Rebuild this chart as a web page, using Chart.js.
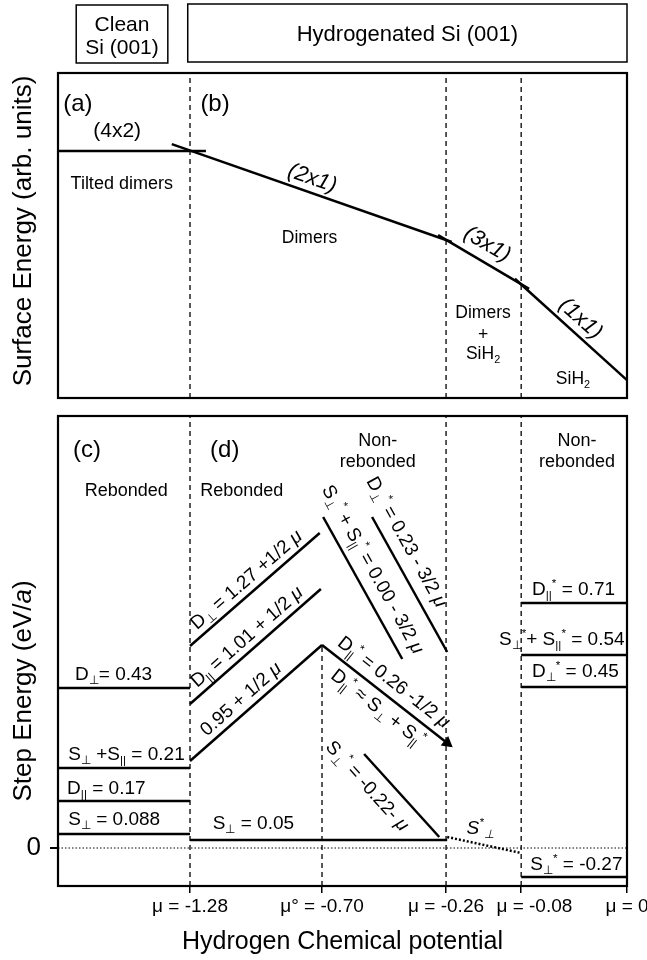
<!DOCTYPE html>
<html>
<head>
<meta charset="utf-8">
<script src="https://cdn.jsdelivr.net/npm/chart.js@4.4.0/dist/chart.umd.min.js"></script>
<style>
body { margin: 0; background: #fff; }
#wrap { position: relative; width: 647px; height: 960px; }
canvas { position: absolute; left: 0; }
#top { top: 0; }
#bot { top: 400px; }
</style>
</head>
<body>
<div id="wrap">
<canvas id="top" width="647" height="400"></canvas>
<canvas id="bot" width="647" height="560"></canvas>
</div>
<script>
var FONT = '"Liberation Sans", Arial, Helvetica, sans-serif';
Chart.defaults.font.family = FONT;
Chart.defaults.color = '#000';

// phase boundaries: schematic position along the mu axis (0 = left frame, 100 = mu = 0)
var muPos = [23.2, 46.4, 68.2, 81.4, 100];
var muTicks = ['μ = -1.28', 'μ° = -0.70', 'μ = -0.26', '     μ = -0.08', 'μ = 0'];

// (a)/(b) surface energy, arb. units
var tiltX = [0, 26.0], tiltY = [76.0, 76.0];
var dim2x1X = [20.0, 69.2], dim2x1Y = [78.1, 48.0];
var dim3x1X = [66.8, 82.8], dim3x1Y = [50.1, 33.6];
var sih1x1X = [80.3, 100], sih1x1Y = [36.7, 5.5];

// (c) clean Si step levels (schematic height): D_perp, S_perp+S_par, D_par, S_perp
var cleanX = [0, 23.2];
var cleanLevels = [160, 80, 47, 14];

// (d) hydrogenated steps
var sPerpX = [23.2, 68.4], sPerpY = [8, 8];
var dPerpX = [23.2, 46.0], dPerpY = [202, 315];
var dParX = [23.2, 46.2], dParY = [144, 259];
var sumX = [23.2, 46.4], sumY = [87, 203];
var dParStarX = [46.4, 68.4], dParStarY = [203, 105];
var sSumStarX = [46.6, 60.5], sSumStarY = [331, 189];
var dPerpStarX = [55.2, 68.4], dPerpStarY = [331, 196];
var sPerpStarX = [53.8, 67.0], sPerpStarY = [94, 11];
var sPerpDotX = [68.4, 81.4], sPerpDotY = [11, -5];

// mu > -0.08, non-rebonded: D_par*, S_perp*+S_par*, D_perp*, S_perp*
var hiX = [81.4, 100];
var hiLevels = [245, 193, 161, -29];

function seg(xs, ys, extra) {
  return Object.assign({
    data: xs.map(function (v, i) { return { x: v, y: ys[i] }; }),
    borderColor: '#000', borderWidth: 2.5, pointRadius: 0, fill: false, tension: 0
  }, extra || {});
}
function dash(xs, ys) {
  return seg(xs, ys, { borderDash: [5, 4], borderWidth: 1.3 });
}

// tiny rich text: _{sub} ^{sup} %{italic}, mu always italic
function parseRich(s) {
  var out = [], buf = '', i = 0;
  function flush() { if (buf) { out.push({ s: buf, k: 'n' }); buf = ''; } }
  while (i < s.length) {
    var c = s[i];
    if ((c === '_' || c === '^' || c === '%') && s[i + 1] === '{') {
      flush();
      var j = s.indexOf('}', i);
      out.push({ s: s.slice(i + 2, j), k: c === '_' ? 'sub' : c === '^' ? 'sup' : 'it' });
      i = j + 1;
    } else if (c === 'μ') {
      flush(); out.push({ s: 'μ', k: 'it' }); i++;
    } else { buf += c; i++; }
  }
  flush();
  return out;
}
function drawRich(ctx, s, x, y, size, opt) {
  opt = opt || {};
  var segs = parseRich(s), w = 0;
  segs.forEach(function (g) {
    g.fs = (g.k === 'sub' || g.k === 'sup') ? size * 0.62 : size;
    g.font = ((opt.italic || g.k === 'it') ? 'italic ' : '') + g.fs + 'px ' + FONT;
    ctx.font = g.font;
    g.w = ctx.measureText(g.s).width;
    w += g.w;
  });
  ctx.save();
  ctx.translate(x, y);
  ctx.rotate(opt.rot || 0);
  ctx.textBaseline = 'alphabetic';
  ctx.textAlign = 'left';
  var cx = opt.align === 'left' ? 0 : -w / 2;
  var base = size * 0.36;
  segs.forEach(function (g) {
    ctx.font = g.font;
    var dy = g.k === 'sub' ? size * 0.22 : g.k === 'sup' ? -size * 0.42 : 0;
    ctx.fillText(g.s, cx, base + dy);
    cx += g.w;
  });
  ctx.restore();
}

function notesPlugin(notes, extra) {
  return {
    id: 'notes',
    afterDraw: function (chart) {
      var ctx = chart.ctx, a = chart.chartArea, sx = chart.scales.x, sy = chart.scales.y;
      ctx.save();
      ctx.strokeStyle = '#000';
      ctx.lineWidth = 2.2;
      ctx.strokeRect(a.left, a.top, a.right - a.left, a.bottom - a.top);
      ctx.fillStyle = '#000';
      notes.forEach(function (n) {
        var px, py, rot = 0;
        if (n.along) {
          var x1 = sx.getPixelForValue(n.along[0][0]), x2 = sx.getPixelForValue(n.along[0][1]);
          var y1 = sy.getPixelForValue(n.along[1][0]), y2 = sy.getPixelForValue(n.along[1][1]);
          rot = Math.atan2(y2 - y1, x2 - x1);
          px = x1 + n.f * (x2 - x1) + n.off * Math.sin(rot);
          py = y1 + n.f * (y2 - y1) - n.off * Math.cos(rot);
        } else {
          px = sx.getPixelForValue(n.x);
          py = sy.getPixelForValue(n.y);
        }
        drawRich(ctx, n.s, px, py, n.size || 19, { rot: rot, align: n.align, italic: n.italic });
      });
      if (extra) extra(ctx, sx, sy);
      ctx.restore();
    }
  };
}

var topNotes = [
  { s: '(a)', x: 3.5, y: 91.1, size: 24 },
  { s: '(b)', x: 27.6, y: 91.1, size: 24 },
  { s: '(4x2)', x: 10.4, y: 82.5, size: 21 },
  { s: 'Tilted dimers', x: 11.2, y: 66.2, size: 18 },
  { s: 'Dimers', x: 44.2, y: 49.5, size: 17.5 },
  { s: 'Dimers', x: 74.7, y: 26.5, size: 17.5 },
  { s: '+', x: 74.7, y: 19.7, size: 17.5 },
  { s: 'SiH_{2}', x: 74.7, y: 13.8, size: 17.5 },
  { s: 'SiH_{2}', x: 90.5, y: 6.2, size: 17.5 },
  { s: '(2x1)', along: [dim2x1X, dim2x1Y], f: 0.485, off: 15.7, size: 22, italic: true },
  { s: '(3x1)', along: [dim3x1X, dim3x1Y], f: 0.445, off: 18.7, size: 22, italic: true },
  { s: '(1x1)', along: [sih1x1X, sih1x1Y], f: 0.5, off: 16, size: 22, italic: true }
];

var botNotes = [
  { s: '(c)', x: 5.1, y: 400, size: 24 },
  { s: '(d)', x: 29.3, y: 400, size: 24 },
  { s: 'Rebonded', x: 12.0, y: 358, size: 18 },
  { s: 'Rebonded', x: 32.3, y: 358, size: 18 },
  { s: 'Non-', x: 56.2, y: 408, size: 18 },
  { s: 'rebonded', x: 56.2, y: 387, size: 18 },
  { s: 'Non-', x: 91.2, y: 408, size: 18 },
  { s: 'rebonded', x: 91.2, y: 387, size: 18 },
  { s: 'D_{⊥}= 0.43', x: 3.0, y: 175, size: 19, align: 'left' },
  { s: 'S_{⊥} +S_{||} = 0.21', x: 1.8, y: 95, size: 19, align: 'left' },
  { s: 'D_{||} = 0.17', x: 1.6, y: 61, size: 19, align: 'left' },
  { s: 'S_{⊥} = 0.088', x: 1.8, y: 30, size: 19, align: 'left' },
  { s: 'S_{⊥} = 0.05', x: 27.2, y: 26, size: 19, align: 'left' },
  { s: 'D_{||}^{*} = 0.71', x: 83.3, y: 260, size: 19, align: 'left' },
  { s: 'S_{⊥}^{*}+ S_{||}^{*} = 0.54', x: 77.5, y: 210, size: 19, align: 'left' },
  { s: 'D_{⊥}^{*} = 0.45', x: 83.3, y: 178, size: 19, align: 'left' },
  { s: 'S_{⊥}^{*} = -0.27', x: 83.0, y: -15, size: 19, align: 'left' },
  { s: 'S^{*}_{⊥}', x: 74.2, y: 21, size: 19, italic: true },
  { s: 'D_{⊥} = 1.27 +1/2 μ', along: [dPerpX, dPerpY], f: 0.5, off: 14 },
  { s: 'D_{||} = 1.01 + 1/2 μ', along: [dParX, dParY], f: 0.5, off: 14 },
  { s: '0.95 + 1/2 μ', along: [sumX, sumY], f: 0.45, off: 14 },
  { s: 'D_{||}^{*} = 0.26 -1/2 μ', along: [dParStarX, dParStarY], f: 0.5, off: 16 },
  { s: 'D_{||}^{*} ≈ S_{⊥} + S_{||}^{*}', along: [dParStarX, dParStarY], f: 0.52, off: -14 },
  { s: 'S_{⊥}^{*} + S_{||}^{*} = 0.00 - 3/2 μ', along: [sSumStarX, sSumStarY], f: 0.43, off: 19 },
  { s: 'D_{⊥}^{*} = 0.23 - 3/2 μ', along: [dPerpStarX, dPerpStarY], f: 0.25, off: 19 },
  { s: 'S_{⊥}^{*} = -0.22- μ', along: [sPerpStarX, sPerpStarY], f: 0.23, off: -18 }
];

function topExtras(ctx, sx) {
  ctx.lineWidth = 1.5;
  var l1 = sx.getPixelForValue(3.2), r1 = sx.getPixelForValue(19.3);
  var l2 = sx.getPixelForValue(22.8), r2 = sx.getPixelForValue(100);
  ctx.strokeRect(l1, 5, r1 - l1, 58);
  ctx.strokeRect(l2, 4, r2 - l2, 58);
  drawRich(ctx, 'Clean', (l1 + r1) / 2, 23, 21);
  drawRich(ctx, 'Si (001)', (l1 + r1) / 2, 46, 21);
  drawRich(ctx, 'Hydrogenated Si (001)', (l2 + r2) / 2, 33, 22);
  drawRich(ctx, 'Surface Energy (arb. units)', 22, 231, 26, { rot: -Math.PI / 2 });
}
function botExtras(ctx) {
  drawRich(ctx, 'Step Energy (eV/%{a})', 22, 291, 26, { rot: -Math.PI / 2 });
}

new Chart(document.getElementById('top'), {
  type: 'line',
  data: {
    datasets: [
      seg(tiltX, tiltY), seg(dim2x1X, dim2x1Y), seg(dim3x1X, dim3x1Y), seg(sih1x1X, sih1x1Y)
    ].concat([muPos[0], muPos[2], muPos[3]].map(function (p) { return dash([p, p], [0, 100]); }))
  },
  options: {
    responsive: false, animation: false, events: [],
    layout: { padding: { left: 58, right: 20, top: 73, bottom: 2 } },
    plugins: { legend: { display: false }, tooltip: { enabled: false } },
    scales: {
      x: { type: 'linear', min: 0, max: 100, display: false },
      y: { type: 'linear', min: 0, max: 100, display: false }
    }
  },
  plugins: [notesPlugin(topNotes, topExtras)]
});

var botSets = cleanLevels.map(function (v) { return seg(cleanX, [v, v]); })
  .concat(hiLevels.map(function (v) { return seg(hiX, [v, v]); }))
  .concat([
    seg(sPerpX, sPerpY), seg(dPerpX, dPerpY), seg(dParX, dParY), seg(sumX, sumY),
    seg(dParStarX, dParStarY, {
      pointRadius: [0, 4.5], pointStyle: 'triangle', pointRotation: 128,
      pointBackgroundColor: '#000', pointBorderColor: '#000'
    }),
    seg(sSumStarX, sSumStarY), seg(dPerpStarX, dPerpStarY), seg(sPerpStarX, sPerpStarY),
    seg(sPerpDotX, sPerpDotY, { borderDash: [2, 2], borderWidth: 2.5 }),
    seg([0, 100], [0, 0], { borderDash: [1.5, 2], borderWidth: 1 }),
    dash([muPos[0], muPos[0]], [-38, 432]),
    dash([muPos[1], muPos[1]], [-38, sumY[1]]),
    dash([muPos[2], muPos[2]], [-38, 432]),
    dash([muPos[3], muPos[3]], [-38, 432])
  ]);

new Chart(document.getElementById('bot'), {
  type: 'line',
  data: { datasets: botSets },
  options: {
    responsive: false, animation: false, events: [],
    layout: { padding: { left: 0, right: 20, top: 16, bottom: 0 } },
    plugins: { legend: { display: false }, tooltip: { enabled: false } },
    scales: {
      x: {
        type: 'linear', min: 0, max: 100,
        afterBuildTicks: function (s) { s.ticks = muPos.map(function (v) { return { value: v }; }); },
        afterFit: function (s) { s.height = 74; s.paddingLeft = 0; s.paddingRight = 0; },
        ticks: {
          autoSkip: false, maxRotation: 0, minRotation: 0, padding: 2,
          font: { size: 19 }, color: '#000',
          callback: function (v, i) { return muTicks[i]; }
        },
        grid: { drawOnChartArea: false, drawTicks: true, tickLength: 7, color: '#000', lineWidth: 1.5 },
        border: { display: false },
        title: {
          display: true, text: 'Hydrogen Chemical potential', color: '#000',
          font: { size: 25 }, padding: { top: 0, bottom: 3 }
        }
      },
      y: {
        type: 'linear', min: -38, max: 432,
        afterBuildTicks: function (s) { s.ticks = [{ value: 0 }]; },
        afterFit: function (s) { s.width = 58; s.paddingTop = 0; s.paddingBottom = 0; },
        ticks: { padding: 9, font: { size: 26 }, color: '#000', callback: function () { return '0'; } },
        grid: { drawOnChartArea: false, drawTicks: true, tickLength: 8, color: '#000', lineWidth: 2 },
        border: { display: false }
      }
    }
  },
  plugins: [notesPlugin(botNotes, botExtras)]
});
</script>
</body>
</html>
